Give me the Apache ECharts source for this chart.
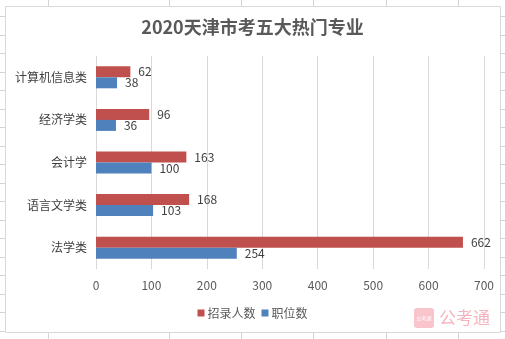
<!DOCTYPE html>
<html>
<head>
<meta charset="utf-8">
<script src="https://cdn.jsdelivr.net/npm/echarts@6/dist/echarts.min.js"></script>
<style>
html,body{margin:0;padding:0;background:#fff;}
#chart{width:505px;height:339px;}
</style>
</head>
<body>
<div id="chart"></div>
<script>
// 2020 天津市考五大热门专业
const categories = ['计算机信息类', '经济学类', '会计学', '语言文学类', '法学类'];
const recruitCounts = [62, 96, 163, 168, 662];   // 招录人数
const positionCounts = [38, 36, 100, 103, 254];  // 职位数
const xTicks = [0, 100, 200, 300, 400, 500, 600, 700];

const FONT = '"Noto Sans CJK SC", "Noto Sans", sans-serif';

// spreadsheet cell lines behind the chart frame
const sheetLines = [];
const colXs = [48, 169, 241, 313, 386, 458];
colXs.forEach(x => sheetLines.push({
  type: 'line', silent: true, z: -10,
  shape: {x1: x + 0.5, y1: 0, x2: x + 0.5, y2: 339},
  style: {stroke: '#d4d4d4', lineWidth: 1}
}));
for (let y = 16; y < 339; y += 18.5) {
  const yy = Math.round(y) + 0.5;
  sheetLines.push({
    type: 'line', silent: true, z: -10,
    shape: {x1: 0, y1: yy, x2: 505, y2: yy},
    style: {stroke: '#d4d4d4', lineWidth: 1}
  });
}

const chart = echarts.init(document.getElementById('chart'));
chart.setOption({
  animation: false,
  textStyle: {fontFamily: FONT},
  title: {
    text: '2020天津市考五大热门专业',
    left: 'center', top: 13,
    textStyle: {fontFamily: FONT, fontSize: 18, fontWeight: 'bold', color: '#595959'}
  },
  graphic: sheetLines.concat([
    {
      type: 'rect', silent: true, z: -5,
      shape: {x: 5.5, y: 6.5, width: 495, height: 326},
      style: {fill: '#ffffff', stroke: '#d9d9d9', lineWidth: 1}
    },
    {
      type: 'rect', silent: true, z: 10,
      shape: {x: 414, y: 308, width: 20, height: 20, r: 3},
      style: {fill: '#f9c4cb'}
    },
    {
      type: 'text', silent: true, z: 11,
      x: 424, y: 318,
      style: {text: '公考通', fill: '#ffffff', fontSize: 5, fontFamily: FONT, align: 'center', verticalAlign: 'middle'}
    },
    {
      type: 'text', silent: true, z: 11,
      x: 439, y: 318,
      style: {text: '公考通', fill: '#f7b3bd', fontSize: 17, fontFamily: FONT, verticalAlign: 'middle'}
    }
  ]),
  legend: {
    bottom: 15, left: 'center',
    itemWidth: 7, itemHeight: 7, itemGap: 6,
    icon: 'rect',
    textStyle: {fontFamily: FONT, fontSize: 12, color: '#595959', padding: [0, 0, 0, -2]},
    data: ['招录人数', '职位数']
  },
  grid: {left: 96, right: 21, top: 56, bottom: 70, containLabel: false},
  xAxis: {
    type: 'value', min: 0, max: 700, interval: 100,
    axisLine: {show: false}, axisTick: {show: false},
    splitLine: {lineStyle: {color: '#d9d9d9'}},
    axisLabel: {
      color: '#595959', fontSize: 12, margin: 10,
      formatter: v => xTicks.includes(v) ? String(v) : ''
    }
  },
  yAxis: {
    type: 'category', data: categories, inverse: true,
    axisLine: {show: false}, axisTick: {show: false},
    axisLabel: {color: '#404040', fontSize: 12, margin: 9}
  },
  series: [
    {
      name: '招录人数', type: 'bar', data: recruitCounts,
      barWidth: 11, barGap: '0%',
      itemStyle: {color: '#c0504d'},
      label: {show: true, position: 'right', distance: 8, color: '#404040', fontSize: 12, fontFamily: FONT}
    },
    {
      name: '职位数', type: 'bar', data: positionCounts,
      barWidth: 11, barGap: '0%',
      itemStyle: {color: '#4f81bd'},
      label: {show: true, position: 'right', distance: 8, color: '#404040', fontSize: 12, fontFamily: FONT}
    }
  ]
});
</script>
</body>
</html>
